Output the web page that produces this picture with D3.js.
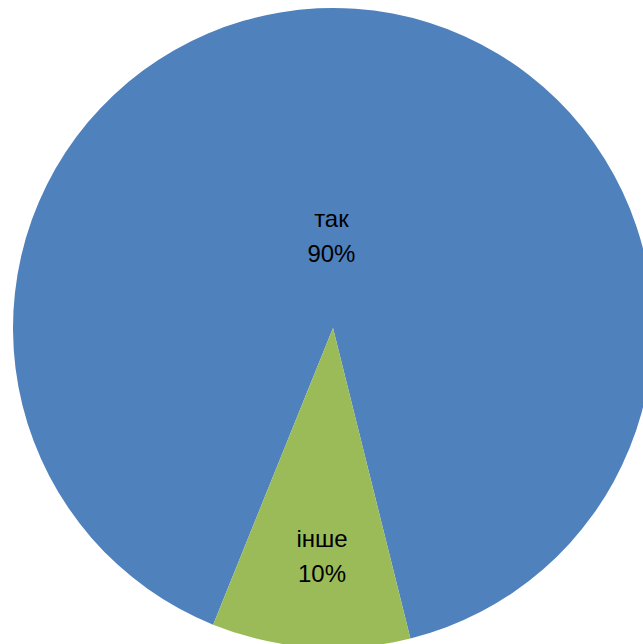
<!DOCTYPE html>
<html>
<head>
    <meta charset="utf-8">
    <script src="https://d3js.org/d3.v7.min.js"></script>
    <style>
      body { margin: 0; background: #fff; }
    </style>
</head>
<body>
    <script>
      // data
      const labels = ['так', 'інше'];
      const values = [90, 10];
      const colors = ['#4F81BD', '#9BBB59'];

      const width = 643,
          height = 644,
          radius = 320;

      const svg = d3.select('body').append('svg')
          .attr('width', width)
          .attr('height', height)
          .append('g')
          .attr('transform', `translate(333, 328)`);

      // first slice starts at ~202 deg clockwise from top
      const pie = d3.pie()
          .value(d => d.value)
          .sort(null)
          .startAngle(202 * Math.PI / 180)
          .endAngle(562 * Math.PI / 180);

      const arc = d3.arc()
          .innerRadius(0)
          .outerRadius(radius);

      const data = labels.map((l, i) => ({ label: l, value: values[i], color: colors[i] }));
      const arcs = pie(data);

      svg.selectAll('.slice')
          .data(arcs)
          .enter().append('path')
          .attr('class', 'slice')
          .attr('d', arc)
          .attr('fill', d => d.data.color);

      // label distance from centre differs (excel best fit), plus small x nudge
      const labelR = [92, 229];
      const nudgeX = [-8, 5];
      const total = d3.sum(values);

      const lbl = svg.selectAll('.lbl')
          .data(arcs)
          .enter().append('text')
          .attr('class', 'lbl')
          .attr('text-anchor', 'middle')
          .style('font-family', '"Liberation Sans", Arial, sans-serif')
          .style('font-size', '24px')
          .attr('fill', '#000')
          .attr('transform', (d, i) => {
            const a = (d.startAngle + d.endAngle) / 2;
            const x = labelR[i] * Math.sin(a) + nudgeX[i];
            const y = -labelR[i] * Math.cos(a);
            return `translate(${x}, ${y})`;
          });

      lbl.append('tspan')
          .attr('x', 0)
          .attr('dy', '-0.4em')
          .text(d => d.data.label);
      lbl.append('tspan')
          .attr('x', 0)
          .attr('dy', '1.48em')
          .text(d => Math.round(d.data.value / total * 100) + '%');
    </script>
</body>
</html>
